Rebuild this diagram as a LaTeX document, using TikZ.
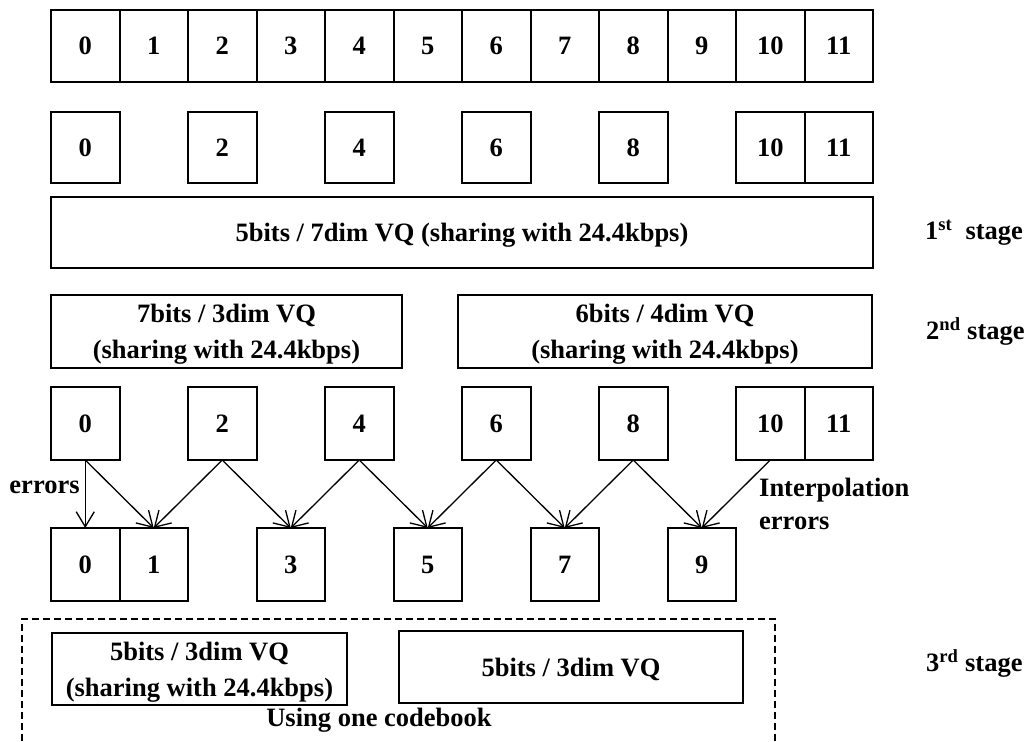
\documentclass[tikz,border=0pt]{standalone}
\usepackage{fontspec}
\setmainfont{Liberation Serif}
\usepackage{tikz}
\usetikzlibrary{arrows.meta, positioning}

\begin{document}
\begin{tikzpicture}[
    x=1pt, y=-1pt,
    cell/.style={
      rectangle, draw, line width=2pt, outer sep=0pt, inner sep=0pt,
      minimum width=68.5pt, minimum height=#1,
      font=\bfseries\fontsize{26.5}{34}\selectfont
    },
    cell/.default=72pt,
    vq/.style={
      rectangle, draw, line width=2pt, outer sep=0pt, inner sep=0pt,
      align=center, font=\bfseries\fontsize{26.5}{36}\selectfont
    },
    arr/.style={-{Straight Barb[length=15pt, width=18pt]}, line width=1.3pt},
    lbl/.style={font=\bfseries\fontsize{26.5}{33}\selectfont,
                align=left, inner sep=0pt},
  ]

  %% ── Page frame (the dashed group is cut off at the bottom) ─────────────
  \clip (0,0) rectangle (1034,742);

  %% ── Input vector: 12 cells ────────────────────────────────────────────
  \node[cell]                    (full0)  at (85.25,46) {0};
  \node[cell, right=0pt of full0]  (full1)  {1};
  \node[cell, right=0pt of full1]  (full2)  {2};
  \node[cell, right=0pt of full2]  (full3)  {3};
  \node[cell, right=0pt of full3]  (full4)  {4};
  \node[cell, right=0pt of full4]  (full5)  {5};
  \node[cell, right=0pt of full5]  (full6)  {6};
  \node[cell, right=0pt of full6]  (full7)  {7};
  \node[cell, right=0pt of full7]  (full8)  {8};
  \node[cell, right=0pt of full8]  (full9)  {9};
  \node[cell, right=0pt of full9]  (full10) {10};
  \node[cell, right=0pt of full10] (full11) {11};

  %% ── Even cells + 11 (to be quantized) ─────────────────────────────────
  \node[cell=71pt]                       (even0)  at (85.25,147.5) {0};
  \node[cell=71pt, right=68.5pt of even0]  (even2)  {2};
  \node[cell=71pt, right=68.5pt of even2]  (even4)  {4};
  \node[cell=71pt, right=68.5pt of even4]  (even6)  {6};
  \node[cell=71pt, right=68.5pt of even6]  (even8)  {8};
  \node[cell=71pt, right=68.5pt of even8]  (even10) {10};
  \node[cell=71pt, right=0pt of even10]    (even11) {11};

  %% ── 1st stage ─────────────────────────────────────────────────────────
  \node[vq, minimum width=822pt, minimum height=71pt, text depth=0pt] (st1) at (462,232.5)
      {5bits / 7dim VQ (sharing with 24.4kbps)};
  \node[lbl, anchor=west] (st1lbl) at (925,233) {1\textsuperscript{st}\ \ stage};

  %% ── 2nd stage ─────────────────────────────────────────────────────────
  %  text sits a little below the middle of the box, as in the source
  \node[vq, minimum width=351pt, minimum height=73pt, text depth=-7pt] (st2a) at (226.5,331.5)
      {7bits / 3dim VQ\\(sharing with 24.4kbps)};
  \node[vq, minimum width=414pt, minimum height=73pt, text depth=-7pt] (st2b) at (665,331.5)
      {6bits / 4dim VQ\\(sharing with 24.4kbps)};
  \node[lbl, anchor=west] (st2lbl) at (926,331) {2\textsuperscript{nd} stage};

  %% ── Quantized even cells ──────────────────────────────────────────────
  \node[cell=73pt]                      (qnt0)  at (85.25,423.5) {0};
  \node[cell=73pt, right=68.5pt of qnt0]  (qnt2)  {2};
  \node[cell=73pt, right=68.5pt of qnt2]  (qnt4)  {4};
  \node[cell=73pt, right=68.5pt of qnt4]  (qnt6)  {6};
  \node[cell=73pt, right=68.5pt of qnt6]  (qnt8)  {8};
  \node[cell=73pt, right=68.5pt of qnt8]  (qnt10) {10};
  \node[cell=73pt, right=0pt of qnt10]    (qnt11) {11};

  %% ── Errors (0 + interpolated odd cells) ───────────────────────────────
  \node[cell=73pt]                     (rec0) at (85.25,564.5) {0};
  \node[cell=73pt, right=0pt of rec0]    (rec1) {1};
  \node[cell=73pt, right=68.5pt of rec1] (rec3) {3};
  \node[cell=73pt, right=68.5pt of rec3] (rec5) {5};
  \node[cell=73pt, right=68.5pt of rec5] (rec7) {7};
  \node[cell=73pt, right=68.5pt of rec7] (rec9) {9};

  %% ── Interpolation arrows ──────────────────────────────────────────────
  \draw[arr] (qnt0.south) -- node[lbl, anchor=east, pos=0.4, xshift=-5pt] {errors} (rec0.north);
  \draw[arr] (qnt0.south)  -- (rec1.north);
  \draw[arr] (qnt2.south)  -- (rec1.north);
  \draw[arr] (qnt2.south)  -- (rec3.north);
  \draw[arr] (qnt4.south)  -- (rec3.north);
  \draw[arr] (qnt4.south)  -- (rec5.north);
  \draw[arr] (qnt6.south)  -- (rec5.north);
  \draw[arr] (qnt6.south)  -- (rec7.north);
  \draw[arr] (qnt8.south)  -- (rec7.north);
  \draw[arr] (qnt8.south)  -- (rec9.north);
  \draw[arr] (qnt10.south) -- (rec9.north);
  \node[lbl, anchor=west] (interp) at (759,504) {Interpolation\\errors};

  %% ── 3rd stage (one shared codebook) ───────────────────────────────────
  \node[draw, dashed, dash pattern=on 7pt off 4pt, line width=2pt,
        minimum width=753pt, minimum height=150pt] (grp) at (398.5,694) {};
  \node[vq, minimum width=295pt, minimum height=72pt, text depth=-2pt] (st3a) at (199.5,669)
      {5bits / 3dim VQ\\(sharing with 24.4kbps)};
  \node[vq, minimum width=344pt, minimum height=72pt, text depth=-16pt] (st3b) at (571,667)
      {5bits / 3dim VQ};
  \node[lbl] (book) at (379,720) {Using one codebook};
  \node[lbl, anchor=west] (st3lbl) at (926,663) {3\textsuperscript{rd} stage};

\end{tikzpicture}
\end{document}
